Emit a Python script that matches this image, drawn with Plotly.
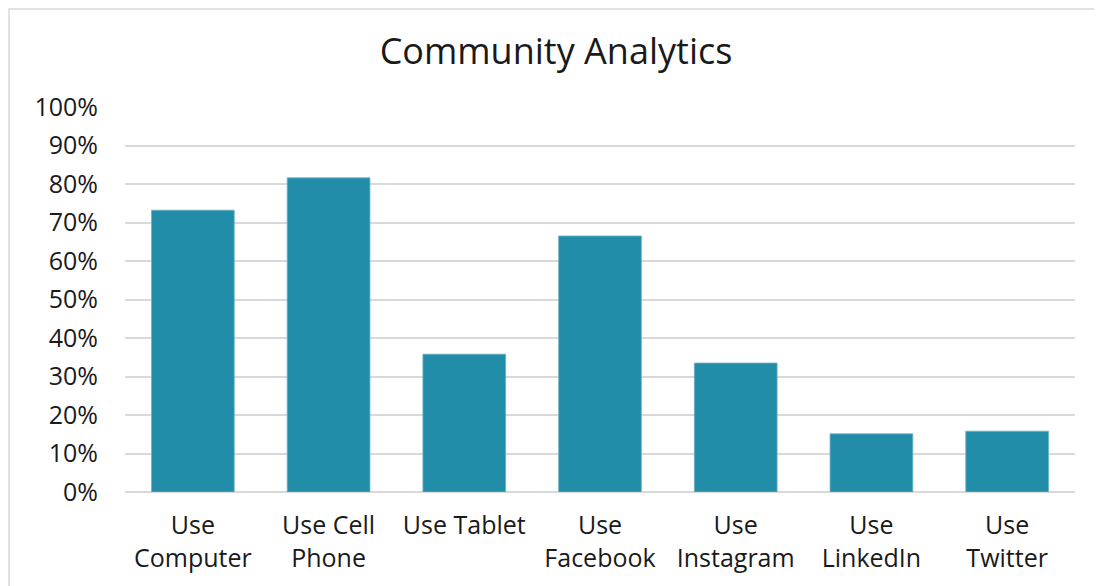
import plotly.graph_objects as go

categories = ["Use<br>Computer", "Use Cell<br>Phone", "Use Tablet", "Use<br>Facebook",
              "Use<br>Instagram", "Use<br>LinkedIn", "Use<br>Twitter"]
values = [0.732, 0.816, 0.358, 0.665, 0.335, 0.151, 0.158]
tick_vals = [0, 0.1, 0.2, 0.3, 0.4, 0.5, 0.6, 0.7, 0.8, 0.9, 1.0]
tick_text = ["0%", "10%", "20%", "30%", "40%", "50%", "60%", "70%", "80%", "90%", "100%"]

OFF = 8  # page body offset
W, H = 1102, 586
L, R, T, B = 125 - OFF, 35, 106 - 7, 102
pw, ph = W - L - R, H - T - B

fig = go.Figure(go.Bar(
    x=categories, y=values,
    marker=dict(color="#218DA8", line=dict(color="#6fb5c7", width=0.8)),
    width=0.61,
))

fig.update_layout(
    width=W, height=H,
    margin=dict(l=L, r=R, t=T, b=B),
    paper_bgcolor="white", plot_bgcolor="white",
    font=dict(family="Open Sans, sans-serif", color="#1a1a1a", size=25),
    title=dict(text="Community Analytics", x=(556 - OFF) / W, xanchor="center",
               y=1 - (50 - 7) / H, yanchor="middle",
               font=dict(size=36, color="#1a1a1a")),
    showlegend=False,
    xaxis=dict(showgrid=False, showline=False, ticks="", tickfont=dict(size=25),
               ticklabelstandoff=16),
    yaxis=dict(range=[0, 1.0], tickvals=tick_vals, ticktext=tick_text,
               showgrid=True, gridcolor="#d9d9d9", gridwidth=1.5,
               zeroline=True, zerolinecolor="#d9d9d9", zerolinewidth=1.5,
               tickfont=dict(size=25), ticklabelstandoff=26),
    shapes=[dict(type="rect", xref="paper", yref="paper",
                 x0=(1 - L) / pw, x1=(W + 10 - L) / pw,
                 y0=-(B + 20) / ph, y1=(ph + T - 1) / ph,
                 line=dict(color="#d9d9d9", width=1.5), fillcolor="rgba(0,0,0,0)", layer="below")],
)

fig.write_html("out.html")
